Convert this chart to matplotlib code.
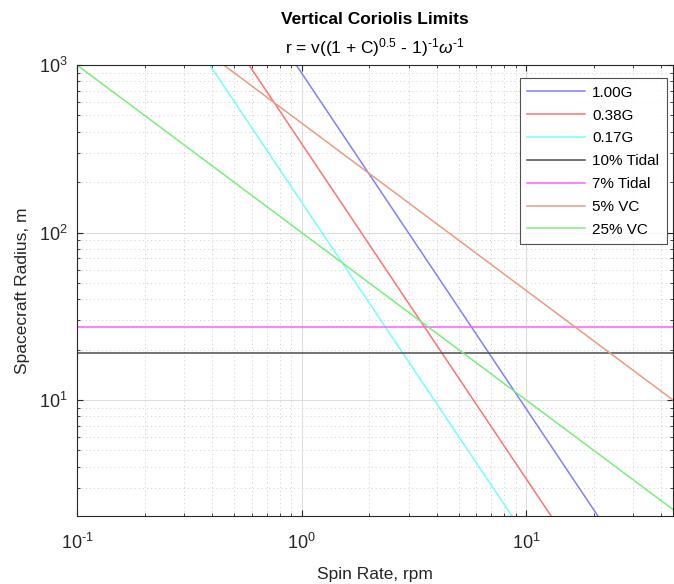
import matplotlib
matplotlib.use("Agg")
import matplotlib.pyplot as plt
from matplotlib.ticker import LogLocator, NullFormatter, FuncFormatter
import numpy as np

plt.rcParams["font.family"] = ["Liberation Sans", "DejaVu Sans"]
plt.rcParams["mathtext.fontset"] = "custom"
plt.rcParams["mathtext.rm"] = "Liberation Sans"
plt.rcParams["mathtext.it"] = "Liberation Sans:italic"

# endpoints of each limit line (spin rate in rpm, radius in m)
labels = ["1.00G", "0.38G", "0.17G", "10% Tidal", "7% Tidal", "5% VC", "25% VC"]
rpm = [
    [0.946, 21.0],
    [0.583, 13.0],
    [0.39, 8.7],
    [0.1, 45],
    [0.1, 45],
    [0.45, 45],
    [0.1, 45],
]
radius = [
    [1000, 2.0],
    [1000, 2.0],
    [1000, 2.0],
    [19.1, 19.1],
    [27.3, 27.3],
    [1000, 10.0],
    [1000, 2.22],
]
colors = ["#8080ff", "#ff7373", "#73ffff", "#4d4d4d", "#ff5cff", "#e99c80", "#78f078"]

fig = plt.figure(figsize=(6.74, 5.84), dpi=100)
ax = fig.add_axes([0.1142, 0.1164, 0.8843, 0.7723])

for lab, x, y, c in zip(labels, rpm, radius, colors):
    ax.plot(x, y, color=c, lw=1.1, label=lab)

ax.set_xscale("log")
ax.set_yscale("log")
ax.set_xlim(0.1, 45)
ax.set_ylim(2.03, 1000)


def pow10(v, pos):
    e = int(round(np.log10(v)))
    return "10$^{%s}$" % (str(e).replace("-", "\u2010"))


ax.xaxis.set_major_formatter(FuncFormatter(pow10))
ax.yaxis.set_major_formatter(FuncFormatter(pow10))
ax.xaxis.set_minor_locator(LogLocator(base=10, subs=range(2, 10)))
ax.yaxis.set_minor_locator(LogLocator(base=10, subs=range(2, 10)))
ax.xaxis.set_minor_formatter(NullFormatter())
ax.yaxis.set_minor_formatter(NullFormatter())

ax.grid(True, which="major", color="#dedede", lw=0.8, ls="-")
ax.grid(True, which="minor", color="#d4d4d4", lw=0.7, ls=(0, (1.2, 3)))
ax.set_axisbelow(True)

ax.tick_params(which="both", direction="in", top=True, right=True,
               colors="#262626", labelsize=13)
ax.tick_params(which="major", length=4, pad=7)
ax.tick_params(axis="x", which="major", pad=12)
ax.tick_params(which="minor", length=2.5)
for s in ax.spines.values():
    s.set_color("#262626")
    s.set_linewidth(0.8)

ax.set_xlabel("Spin Rate, rpm", fontsize=12.5, color="#262626", labelpad=10)
ax.set_ylabel("Spacecraft Radius, m", fontsize=12.5, color="#262626", labelpad=6)

ax.set_title("r = v((1 + C)$^{0.5}$ - 1)$^{\u20101}$$\\omega^{\u20101}$", fontsize=12.5,
             color="#000000", pad=8)
fig.text(0.556, 0.967, "Vertical Coriolis Limits", fontsize=12.5, fontweight="bold",
         ha="center", va="center")

leg = ax.legend(loc="upper right", bbox_to_anchor=(667 / 674, 1 - 78 / 584),
                bbox_transform=fig.transFigure, borderaxespad=0,
                fontsize=11, frameon=True, fancybox=False,
                edgecolor="#262626", handlelength=3.8, handletextpad=0.45,
                labelspacing=0.58, borderpad=0.5)
leg.get_frame().set_linewidth(0.8)

fig.savefig("out.png", dpi=100)
